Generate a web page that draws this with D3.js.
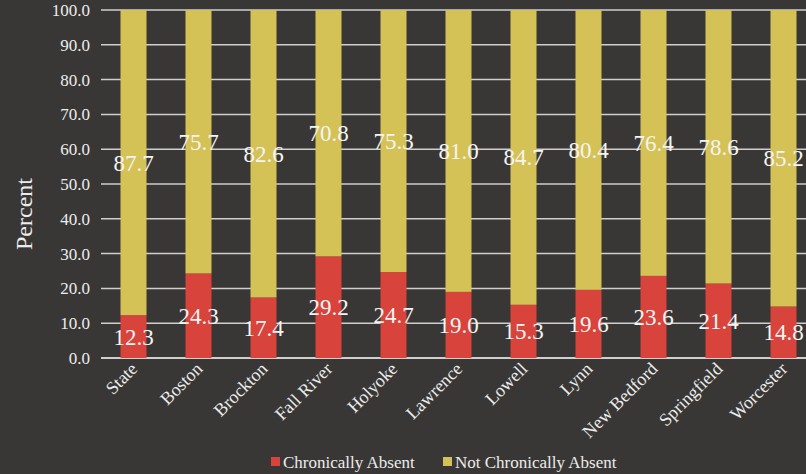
<!DOCTYPE html>
<html>
<head>
<meta charset="utf-8">
<script src="https://cdn.jsdelivr.net/npm/d3@7"></script>
<style>
  html, body { margin: 0; padding: 0; background: #393735; }
  svg { display: block; }
</style>
</head>
<body>
<svg id="chart"></svg>
<script>
const cities = ['State', 'Boston', 'Brockton', 'Fall River', 'Holyoke', 'Lawrence', 'Lowell', 'Lynn', 'New Bedford', 'Springfield', 'Worcester'];
const chronic = [12.3, 24.3, 17.4, 29.2, 24.7, 19.0, 15.3, 19.6, 23.6, 21.4, 14.8];
const notChronic = [87.7, 75.7, 82.6, 70.8, 75.3, 81.0, 84.7, 80.4, 76.4, 78.6, 85.2];
const yTicks = [0, 10, 20, 30, 40, 50, 60, 70, 80, 90, 100];
const seriesNames = ['Chronically Absent', 'Not Chronically Absent'];

const W = 806, H = 474;
const redColor = '#d8433b';
const yellowColor = '#d5c256';
const textColor = '#ececec';
const gridColor = '#cfcfcf';
const font = '"Liberation Serif", "Times New Roman", serif';

const svg = d3.select('#chart').attr('width', W).attr('height', H);
svg.append('rect').attr('width', W).attr('height', H).attr('fill', '#393735');

const MARGIN = { top: 10, left: 101, bottom: 116 };
const plotBottom = H - MARGIN.bottom;

const x = d3.scaleBand()
    .domain(cities)
    .range([MARGIN.left, MARGIN.left + cities.length * 65])
    .paddingInner(0.6)
    .paddingOuter(0.3);

const y = d3.scaleLinear().domain([0, 100]).range([plotBottom, MARGIN.top]);

// gridlines
svg.append('g')
    .selectAll('line')
    .data(yTicks)
    .join('line')
    .attr('x1', MARGIN.left)
    .attr('x2', W)
    .attr('y1', d => y(d))
    .attr('y2', d => y(d))
    .attr('stroke', gridColor)
    .attr('stroke-width', d => d === 0 ? 2 : 1.5);

// y axis labels
const yAxis = svg.append('g')
    .attr('transform', `translate(${MARGIN.left},0)`)
    .call(d3.axisLeft(y).tickValues(yTicks).tickFormat(d3.format('.1f')).tickSize(0).tickPadding(11));
yAxis.select('.domain').remove();
yAxis.attr('font-family', null).attr('font-size', null);
yAxis.selectAll('.tick text')
    .style('fill', textColor)
    .style('font-family', font)
    .style('font-size', '17px');

// stacked bars
const rows = cities.map((c, i) => ({ city: c, chronic: chronic[i], not: notChronic[i] }));
const stack = d3.stack().keys(['chronic', 'not'])(rows);
const colors = [redColor, yellowColor];

stack.forEach((layer, li) => {
    svg.append('g')
        .selectAll('rect')
        .data(layer)
        .join('rect')
        .attr('x', d => x(d.data.city))
        .attr('width', x.bandwidth())
        .attr('y', d => y(d[1]))
        .attr('height', d => y(d[0]) - y(d[1]))
        .attr('fill', colors[li]);
});

// value labels
stack.forEach(layer => {
    svg.append('g')
        .selectAll('text')
        .data(layer)
        .join('text')
        .attr('x', d => x(d.data.city) + x.bandwidth() / 2)
        .attr('y', d => y((d[0] + d[1]) / 2))
        .attr('dy', '0.35em')
        .attr('text-anchor', 'middle')
        .style('fill', '#f4f4f4')
        .style('font-family', font)
        .style('font-size', '23px')
        .text(d => d3.format('.1f')(d[1] - d[0]));
});

// x labels
svg.append('g')
    .selectAll('text')
    .data(cities)
    .join('text')
    .attr('transform', d => `translate(${x(d) + x.bandwidth() / 2 + 5},${plotBottom + 12}) rotate(-45)`)
    .attr('text-anchor', 'end')
    .style('fill', textColor)
    .style('font-family', font)
    .style('font-size', '18px')
    .text(d => d);

// y title
svg.append('text')
    .attr('transform', `translate(32,${(MARGIN.top + plotBottom) / 2 + 30}) rotate(-90)`)
    .attr('text-anchor', 'middle')
    .style('fill', textColor)
    .style('font-family', font)
    .style('font-size', '24px')
    .text('Percent');

// legend
const legend = svg.append('g').attr('transform', 'translate(271,462)');
const legendX = [0, 172];
seriesNames.forEach((name, i) => {
    const item = legend.append('g').attr('transform', `translate(${legendX[i]},0)`);
    item.append('rect')
        .attr('x', 0).attr('y', -5)
        .attr('width', 9).attr('height', 9)
        .attr('fill', colors[i]);
    item.append('text')
        .attr('x', 12).attr('y', 0)
        .attr('dy', '0.35em')
        .style('fill', textColor)
        .style('font-family', font)
        .style('font-size', '17px')
        .text(name);
});
</script>
</body>
</html>
